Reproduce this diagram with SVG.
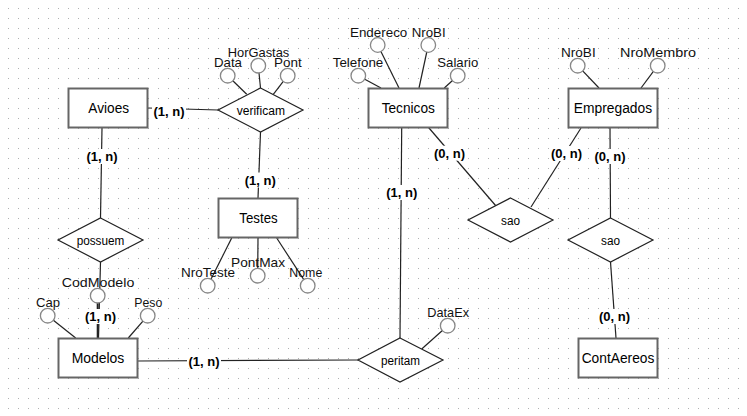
<svg xmlns="http://www.w3.org/2000/svg" width="747" height="416" viewBox="0 0 747 416">
<defs>
<pattern id="grid" x="0" y="0" width="10" height="10" patternUnits="userSpaceOnUse">
<rect x="8" y="8" width="1" height="1" fill="#b0b0b0"/>
</pattern>
</defs>
<style>
.ent{fill:#fff;stroke:#666;stroke-width:2}
.rel{fill:#fff;stroke:#222;stroke-width:1.2}
.att{fill:#fff;stroke:#888;stroke-width:1.3}
.ln{stroke:#222;stroke-width:1.2;fill:none}
.et{font-family:"Liberation Sans",Arial,sans-serif;font-size:14px;fill:#000;text-anchor:middle}
.rt{font-family:"Liberation Sans",Arial,sans-serif;font-size:12px;fill:#000;text-anchor:middle}
.at{font-family:"Liberation Sans",Arial,sans-serif;font-size:13px;fill:#111}
.ct{font-family:"Liberation Sans",Arial,sans-serif;font-size:13px;font-weight:bold;fill:#000;text-anchor:middle}
.bg{fill:#fff}
</style>
<rect width="747" height="416" fill="#fff"/>
<rect width="747" height="416" fill="url(#grid)"/>

<g id="connectors">
<line class="ln" x1="148" y1="108" x2="218" y2="110"/>
<line class="ln" x1="102" y1="128" x2="100.5" y2="218"/>
<line class="ln" x1="260.5" y1="132" x2="258" y2="198"/>
<line class="ln" x1="401.7" y1="128" x2="400" y2="338"/>
<line class="ln" x1="429" y1="128" x2="496" y2="206"/>
<line class="ln" x1="581" y1="128" x2="531" y2="207"/>
<line class="ln" x1="610" y1="128" x2="610.5" y2="218"/>
<line class="ln" x1="610.5" y1="262" x2="616" y2="338"/>
<line class="ln" x1="138" y1="361" x2="358" y2="360"/>
<line class="ln" x1="100.5" y1="262" x2="98.5" y2="338"/>
<!-- attribute links -->
<line class="ln" x1="227.7" y1="75.7" x2="246.7" y2="94.3"/>
<line class="ln" x1="258.3" y1="65.7" x2="260.5" y2="88"/>
<line class="ln" x1="287.7" y1="75.7" x2="273.3" y2="94.3"/>
<line class="ln" x1="358.3" y1="75.7" x2="381" y2="88"/>
<line class="ln" x1="377.7" y1="45" x2="399" y2="88"/>
<line class="ln" x1="428.3" y1="45" x2="419" y2="88"/>
<line class="ln" x1="457.7" y1="75.7" x2="444.3" y2="88"/>
<line class="ln" x1="577.7" y1="65.7" x2="599" y2="88"/>
<line class="ln" x1="657.7" y1="65.7" x2="641" y2="88"/>
<line class="ln" x1="207.7" y1="285.7" x2="231.7" y2="238"/>
<line class="ln" x1="257.7" y1="275.7" x2="258" y2="238"/>
<line class="ln" x1="307.7" y1="285.7" x2="276.7" y2="238"/>
<line class="ln" x1="47.7" y1="315.7" x2="75.7" y2="338"/>
<line class="ln" x1="97.7" y1="295.7" x2="97.7" y2="338" style="stroke-width:2"/>
<line class="ln" x1="147.7" y1="315.7" x2="128.3" y2="338"/>
<line class="ln" x1="447.7" y1="325.7" x2="421.7" y2="349"/>
<!-- cardinality labels -->
<rect class="bg" x="152" y="104" width="34" height="15"/>
<text class="ct" x="169" y="115.7">(1, n)</text>
<rect class="bg" x="85" y="149" width="34" height="15"/>
<text class="ct" x="102" y="161">(1, n)</text>
<rect class="bg" x="243.3" y="172.5" width="34" height="15"/>
<text class="ct" x="260.3" y="184.5">(1, n)</text>
<rect class="bg" x="384.7" y="185" width="34" height="15"/>
<text class="ct" x="401.7" y="197">(1, n)</text>
<rect class="bg" x="432.5" y="145.7" width="34" height="15"/>
<text class="ct" x="449.5" y="157.7">(0, n)</text>
<rect class="bg" x="549.5" y="146" width="34" height="15"/>
<text class="ct" x="566.5" y="158">(0, n)</text>
<rect class="bg" x="593" y="149" width="34" height="15"/>
<text class="ct" x="610" y="161">(0, n)</text>
<rect class="bg" x="597.5" y="309" width="34" height="15"/>
<text class="ct" x="614.5" y="321">(0, n)</text>
<rect class="bg" x="187" y="353.5" width="34" height="15"/>
<text class="ct" x="204" y="365.5">(1, n)</text>
<rect class="bg" x="83.5" y="309" width="34" height="15"/>
<text class="ct" x="100.5" y="321">(1, n)</text>
</g>

<g id="Avioes"><rect class="ent" x="68.5" y="88.5" width="79" height="39"/><text class="et" x="108.7" y="113.3" textLength="40.7" lengthAdjust="spacingAndGlyphs">Avioes</text></g>
<g id="Tecnicos"><rect class="ent" x="368.5" y="88.5" width="79" height="39"/><text class="et" x="408.3" y="113.3" textLength="53.3" lengthAdjust="spacingAndGlyphs">Tecnicos</text></g>
<g id="Empregados"><rect class="ent" x="568.5" y="88.5" width="89" height="39"/><text class="et" x="613" y="113.3" textLength="78.3" lengthAdjust="spacingAndGlyphs">Empregados</text></g>
<g id="Testes"><rect class="ent" x="218.5" y="198.5" width="79" height="39"/><text class="et" x="258.5" y="223.3" textLength="38.3" lengthAdjust="spacingAndGlyphs">Testes</text></g>
<g id="Modelos"><rect class="ent" x="58.5" y="338.5" width="79" height="39"/><text class="et" x="98" y="363.3" textLength="52.7" lengthAdjust="spacingAndGlyphs">Modelos</text></g>
<g id="ContAereos"><rect class="ent" x="578.5" y="338.5" width="79" height="39"/><text class="et" x="618" y="363.3" textLength="72.7" lengthAdjust="spacingAndGlyphs">ContAereos</text></g>

<g id="verificam"><polygon class="rel" points="260.5,88 303,110 260.5,132 218,110"/><text class="rt" x="260.8" y="115" textLength="48.3" lengthAdjust="spacingAndGlyphs">verificam</text></g>
<g id="possuem"><polygon class="rel" points="100.5,218 143,240 100.5,262 58,240"/><text class="rt" x="100.5" y="244.5" textLength="47.7" lengthAdjust="spacingAndGlyphs">possuem</text></g>
<g id="sao1"><polygon class="rel" points="510.5,198 553,220 510.5,242 468,220"/><text class="rt" x="510.5" y="224.5" textLength="19" lengthAdjust="spacingAndGlyphs">sao</text></g>
<g id="sao2"><polygon class="rel" points="610.5,218 653,240 610.5,262 568,240"/><text class="rt" x="610.5" y="244.5" textLength="19" lengthAdjust="spacingAndGlyphs">sao</text></g>
<g id="peritam"><polygon class="rel" points="400,338 443,360 400,382 358,360"/><text class="rt" x="400.5" y="365" textLength="39" lengthAdjust="spacingAndGlyphs">peritam</text></g>

<g id="attr-Data"><circle class="att" cx="227.7" cy="75.7" r="7.3"/><text class="at" x="214" y="66.5" textLength="28" lengthAdjust="spacingAndGlyphs">Data</text></g>
<g id="attr-HorGastas"><circle class="att" cx="258.3" cy="65.7" r="7.3"/><text class="at" x="227.7" y="56.5" textLength="61.6" lengthAdjust="spacingAndGlyphs">HorGastas</text></g>
<g id="attr-Pont"><circle class="att" cx="287.7" cy="75.7" r="7.3"/><text class="at" x="274" y="66.5" textLength="27.7" lengthAdjust="spacingAndGlyphs">Pont</text></g>
<g id="attr-Telefone"><circle class="att" cx="358.3" cy="75.7" r="7.3"/><text class="at" x="332.7" y="66.5" textLength="50.6" lengthAdjust="spacingAndGlyphs">Telefone</text></g>
<g id="attr-Endereco"><circle class="att" cx="377.7" cy="45" r="7.3"/><text class="at" x="350" y="36.5" textLength="57.3" lengthAdjust="spacingAndGlyphs">Endereco</text></g>
<g id="attr-NroBI-tec"><circle class="att" cx="428.3" cy="45" r="7.3"/><text class="at" x="411.7" y="36.5" textLength="34" lengthAdjust="spacingAndGlyphs">NroBI</text></g>
<g id="attr-Salario"><circle class="att" cx="457.7" cy="75.7" r="7.3"/><text class="at" x="437.3" y="66.5" textLength="41" lengthAdjust="spacingAndGlyphs">Salario</text></g>
<g id="attr-NroBI-emp"><circle class="att" cx="577.7" cy="65.7" r="7.3"/><text class="at" x="561" y="56.5" textLength="34.7" lengthAdjust="spacingAndGlyphs">NroBI</text></g>
<g id="attr-NroMembro"><circle class="att" cx="657.7" cy="65.7" r="7.3"/><text class="at" x="620" y="56.5" textLength="76" lengthAdjust="spacingAndGlyphs">NroMembro</text></g>
<g id="attr-NroTeste"><circle class="att" cx="207.7" cy="285.7" r="7.3"/><text class="at" x="181" y="276.5" textLength="54" lengthAdjust="spacingAndGlyphs">NroTeste</text></g>
<g id="attr-PontMax"><circle class="att" cx="257.7" cy="275.7" r="7.3"/><text class="at" x="231" y="266.5" textLength="54" lengthAdjust="spacingAndGlyphs">PontMax</text></g>
<g id="attr-Nome"><circle class="att" cx="307.7" cy="285.7" r="7.3"/><text class="at" x="289.3" y="276.5" textLength="33" lengthAdjust="spacingAndGlyphs">Nome</text></g>
<g id="attr-Cap"><circle class="att" cx="47.7" cy="315.7" r="7.3"/><text class="at" x="36" y="306.5" textLength="24" lengthAdjust="spacingAndGlyphs">Cap</text></g>
<g id="attr-CodModelo"><circle class="att" cx="97.7" cy="295.7" r="7.3"/><text class="at" x="61.7" y="286.5" textLength="72.6" lengthAdjust="spacingAndGlyphs">CodModelo</text></g>
<g id="attr-Peso"><circle class="att" cx="147.7" cy="315.7" r="7.3"/><text class="at" x="134.3" y="306.5" textLength="28" lengthAdjust="spacingAndGlyphs">Peso</text></g>
<g id="attr-DataEx"><circle class="att" cx="447.7" cy="325.7" r="7.3"/><text class="at" x="427.3" y="316.5" textLength="41.7" lengthAdjust="spacingAndGlyphs">DataEx</text></g>
</svg>
